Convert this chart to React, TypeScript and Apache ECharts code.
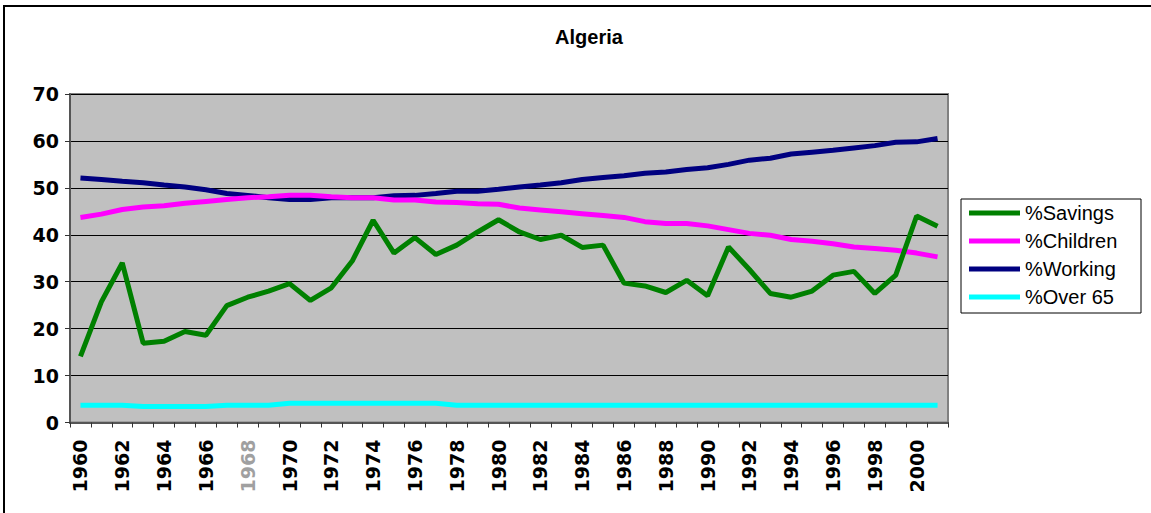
import React, { useEffect, useRef } from "react";
import * as echarts from "echarts";

const years = [
  "1960","1961","1962","1963","1964","1965","1966","1967","1968","1969",
  "1970","1971","1972","1973","1974","1975","1976","1977","1978","1979",
  "1980","1981","1982","1983","1984","1985","1986","1987","1988","1989",
  "1990","1991","1992","1993","1994","1995","1996","1997","1998","1999",
  "2000","2001",
];

const savings = [
  14.1, 25.7, 34.0, 16.9, 17.3, 19.4, 18.6, 24.9, 26.7, 28.0,
  29.6, 26.0, 28.7, 34.4, 43.1, 36.1, 39.4, 35.8, 37.8, 40.6,
  43.2, 40.6, 39.0, 39.9, 37.3, 37.8, 29.7, 29.1, 27.7, 30.3,
  27.0, 37.4, 32.6, 27.5, 26.7, 28.0, 31.4, 32.2, 27.5, 31.4,
  44.0, 41.8,
];

const children = [
  43.7, 44.4, 45.4, 45.9, 46.2, 46.7, 47.1, 47.5, 47.9, 48.1,
  48.4, 48.4, 48.1, 47.9, 47.9, 47.4, 47.4, 47.0, 46.9, 46.6,
  46.5, 45.7, 45.3, 44.9, 44.5, 44.1, 43.7, 42.8, 42.4, 42.4,
  41.9, 41.1, 40.3, 39.9, 39.0, 38.6, 38.1, 37.4, 37.1, 36.7,
  36.1, 35.3,
];

const working = [
  52.1, 51.8, 51.4, 51.1, 50.6, 50.2, 49.6, 48.8, 48.4, 47.9,
  47.5, 47.5, 47.9, 47.9, 47.9, 48.3, 48.4, 48.8, 49.3, 49.3,
  49.7, 50.2, 50.6, 51.1, 51.8, 52.2, 52.6, 53.1, 53.4, 53.9,
  54.3, 55.0, 55.9, 56.3, 57.2, 57.6, 58.0, 58.5, 59.0, 59.7,
  59.8, 60.5,
];

const over65 = [
  3.7, 3.7, 3.7, 3.4, 3.4, 3.4, 3.4, 3.7, 3.7, 3.7,
  4.1, 4.1, 4.1, 4.1, 4.1, 4.1, 4.1, 4.1, 3.7, 3.7,
  3.7, 3.7, 3.7, 3.7, 3.7, 3.7, 3.7, 3.7, 3.7, 3.7,
  3.7, 3.7, 3.7, 3.7, 3.7, 3.7, 3.7, 3.7, 3.7, 3.7,
  3.7, 3.7,
];

const seriesNames = ["%Savings", "%Children", "%Working", "%Over 65"];
const seriesColors = ["#008000", "#FF00FF", "#000080", "#00FFFF"];
const greyLabelYear = "1968";

export default function App() {
  const ref = useRef<HTMLDivElement>(null);

  useEffect(() => {
    if (!ref.current) return;
    const chart = echarts.init(ref.current, undefined, { renderer: "svg" });
    const dataSets = [savings, children, working, over65];
    chart.setOption({
      animation: false,
      backgroundColor: "#ffffff",
      title: {
        text: "Algeria",
        left: 584,
        top: 22,
        textAlign: "center",
        textStyle: {
          fontFamily: "Liberation Sans",
          fontSize: 20,
          fontWeight: "bold",
          color: "#000",
        },
      },
      legend: {
        orient: "vertical",
        left: 969,
        top: 203,
        icon: "rect",
        itemWidth: 51,
        itemHeight: 5,
        itemGap: 8,
        padding: 0,
        textStyle: {
          fontFamily: "Liberation Sans",
          fontSize: 20,
          lineHeight: 20,
          color: "#000",
          padding: [0, 0, 0, 0],
        },
        data: seriesNames,
      },
      graphic: [
        {
          type: "rect",
          shape: { x: 4, y: 6, width: 1200, height: 600 },
          style: { fill: "none", stroke: "#000", lineWidth: 2 },
          silent: true,
        },
        {
          type: "rect",
          shape: { x: 961, y: 199, width: 180, height: 114 },
          style: { fill: "none", stroke: "#000", lineWidth: 1 },
          silent: true,
        },
      ],
      grid: {
        left: 70,
        right: 203,
        top: 94,
        bottom: 90.5,
        show: true,
        backgroundColor: "#C0C0C0",
        borderColor: "#808080",
        borderWidth: 2,
      },
      xAxis: {
        type: "category",
        boundaryGap: true,
        data: years.map((y) =>
          y === greyLabelYear
            ? { value: y, textStyle: { color: "#a0a0a0" } }
            : y
        ),
        axisLine: { show: true, lineStyle: { color: "#555", width: 2 } },
        axisTick: {
          show: true,
          interval: 0,
          length: 5,
          lineStyle: { color: "#333", width: 1 },
        },
        axisLabel: {
          interval: 1,
          rotate: 90,
          margin: 17,
          fontFamily: "DejaVu Sans",
          fontWeight: "bold",
          fontSize: 19,
          color: "#000",
        },
        splitLine: { show: false },
      },
      yAxis: {
        type: "value",
        min: 0,
        max: 70,
        interval: 10,
        axisLine: { show: true, lineStyle: { color: "#555", width: 2 } },
        axisTick: {
          show: true,
          length: 5,
          lineStyle: { color: "#333", width: 1 },
        },
        axisLabel: {
          margin: 11,
          fontFamily: "DejaVu Sans",
          fontWeight: "bold",
          fontSize: 19,
          color: "#000",
        },
        splitLine: { show: true, lineStyle: { color: "#000", width: 1 } },
      },
      series: seriesNames.map((name, i) => ({
        name,
        type: "line",
        data: dataSets[i],
        showSymbol: false,
        symbol: "none",
        color: seriesColors[i],
        lineStyle: { color: seriesColors[i], width: 5 },
        z: 2 + (3 - i),
      })),
    });
    return () => chart.dispose();
  }, []);

  return (
    <div
      ref={ref}
      style={{ position: "absolute", left: 0, top: 0, width: 1151, height: 513 }}
    />
  );
}
